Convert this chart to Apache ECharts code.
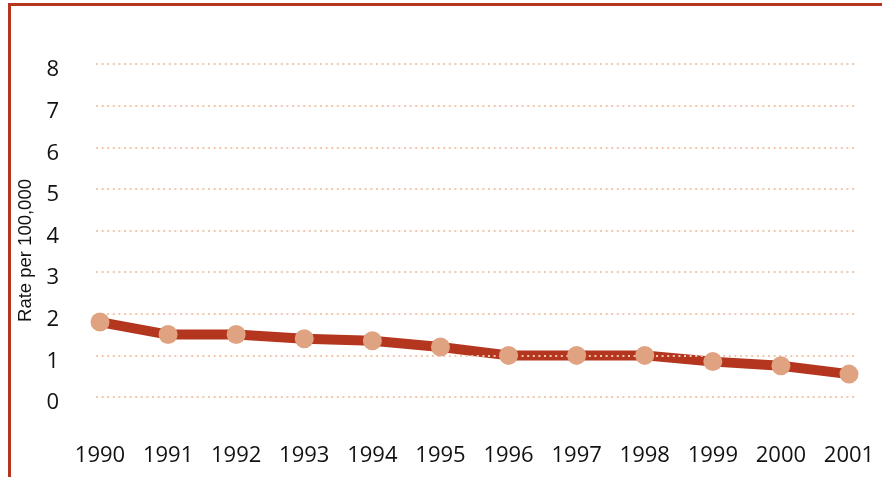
<!DOCTYPE html>
<html>
<head>
<meta charset="utf-8">
<script src="https://cdn.jsdelivr.net/npm/echarts@6/dist/echarts.min.js"></script>
<style>
  html, body { margin: 0; padding: 0; background: #fff; }
  #chart { width: 882px; height: 477px; }
</style>
</head>
<body>
<div id="chart"></div>
<script>
// data
const years = ['1990', '1991', '1992', '1993', '1994', '1995', '1996', '1997', '1998', '1999', '2000', '2001'];
const rates = [1.8, 1.5, 1.5, 1.4, 1.35, 1.2, 1.0, 1.0, 1.0, 0.85, 0.75, 0.55];
const yMin = 0;
const yMax = 8;

const red = '#b5361f';
const dot = '#dfa381';
const gridColor = '#f2c8ae';
const font = '"Open Sans", "Noto Sans", sans-serif';

const myechart = echarts.init(document.getElementById('chart'));

const option = {
  animation: false,
  graphic: [
    // frame (top and left edge only, rest is cut off)
    { type: 'rect', shape: { x: 8, y: 3, width: 874, height: 3 }, style: { fill: red } },
    { type: 'rect', shape: { x: 8, y: 3, width: 3, height: 474 }, style: { fill: red } },
  ],
  grid: [
    // grid for the dotted lines and y labels
    { left: 96, right: 25, top: 64, height: 333 },
    // grid for the data, a bit narrower
    { left: 100, right: 33, top: 64, height: 333 },
  ],
  xAxis: [
    { type: 'value', gridIndex: 0, show: false, min: 0, max: 1 },
    {
      type: 'category',
      gridIndex: 1,
      data: years,
      boundaryGap: false,
      axisLine: { show: false },
      axisTick: { show: false },
      axisLabel: {
        margin: 48,
        color: '#111',
        fontSize: 22,
        fontFamily: font,
      },
    },
  ],
  yAxis: [
    {
      type: 'value',
      gridIndex: 0,
      min: yMin,
      max: yMax,
      interval: 1,
      z: 3,
      axisLine: { show: false },
      axisTick: { show: false },
      axisLabel: {
        margin: 37,
        color: '#111',
        fontSize: 22,
        fontFamily: font,
        verticalAlign: 'top',
        lineHeight: 12,
      },
      splitLine: {
        lineStyle: { color: gridColor, width: 2, type: [2, 3.6] },
      },
      name: 'Rate per 100,000',
      nameLocation: 'middle',
      nameRotate: 90,
      nameGap: 60,
      nameTextStyle: {
        color: '#111',
        fontSize: 18.5,
        fontFamily: '"Liberation Sans", Arial, sans-serif',
        padding: [0, 40, 0, 0],
      },
    },
    { type: 'value', gridIndex: 1, min: yMin, max: yMax, show: false },
  ],
  series: [
    {
      // thick line, sits under the dotted grid
      name: 'Rate',
      type: 'line',
      xAxisIndex: 1,
      yAxisIndex: 1,
      data: rates,
      z: 2,
      showSymbol: false,
      lineStyle: { color: red, width: 10 },
    },
    {
      // round markers above everything
      name: 'Rate points',
      type: 'line',
      xAxisIndex: 1,
      yAxisIndex: 1,
      data: rates,
      z: 5,
      symbol: 'circle',
      symbolSize: 19,
      lineStyle: { width: 0 },
      itemStyle: { color: dot },
    },
  ],
};

myechart.setOption(option);
window.addEventListener('resize', () => myechart.resize());
</script>
</body>
</html>
